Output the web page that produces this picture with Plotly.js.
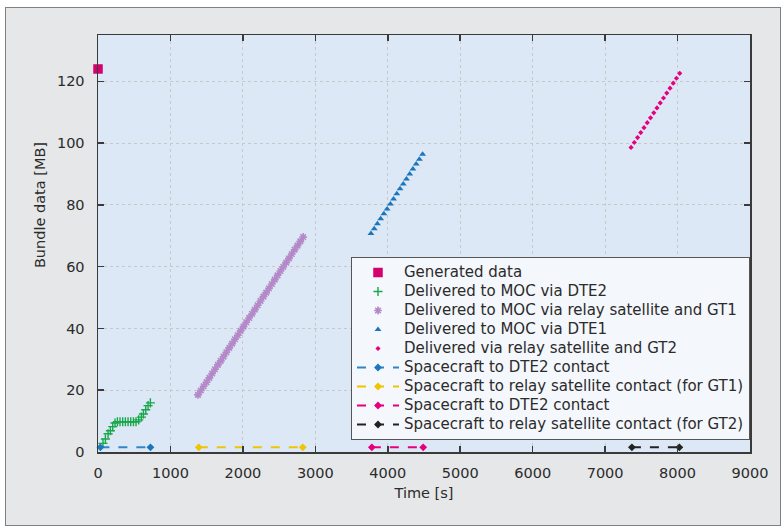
<!DOCTYPE html>
<html>
<head>
<meta charset="utf-8">
<script src="https://cdn.plot.ly/plotly-3.0.1.min.js"></script>
<style>
  html, body { margin: 0; padding: 0; background: #ffffff; }
  #wrap { position: absolute; left: 5px; top: 7px; width: 774px; height: 517px;
          border: 1px solid #808080; background: #e6e7e8; }
  #plot { width: 774px; height: 517px; }
</style>
</head>
<body>
<div id="wrap"><div id="plot"></div></div>
<script>
// ---- Data ----
const generatedX = [0];
const generatedY = [124];

const dte2X = [69, 102, 139, 171, 203, 235, 268, 304, 341, 378, 415, 452, 489, 525, 562, 599, 627, 659, 691, 723];
const dte2Y = [2.8, 4.2, 5.9, 6.9, 8.2, 9.4, 9.8, 9.8, 9.8, 9.8, 9.8, 9.8, 9.8, 9.8, 10.4, 11.3, 12.3, 13.7, 15.0, 15.9];

const gt1X = [1380, 1419, 1458, 1498, 1537, 1576, 1615, 1655, 1694, 1733, 1772, 1812, 1851, 1890, 1929, 1969, 2008, 2047, 2086,
              2126, 2165, 2204, 2243, 2283, 2322, 2361, 2400, 2440, 2479, 2518, 2557, 2597, 2636, 2675, 2714, 2754, 2793, 2832];
const gt1Y = [18.5, 19.9, 21.3, 22.6, 24.0, 25.4, 26.8, 28.2, 29.5, 30.9, 32.3, 33.7, 35.1, 36.5, 37.8, 39.2, 40.6, 42.0, 43.4,
              44.7, 46.1, 47.5, 48.9, 50.3, 51.6, 53.0, 54.4, 55.8, 57.2, 58.6, 59.9, 61.3, 62.7, 64.1, 65.5, 66.8, 68.2, 69.6];

const dte1X = [3768, 3813, 3857, 3902, 3946, 3991, 4036, 4080, 4125, 4169, 4214, 4258, 4303, 4347, 4392, 4436, 4481];
const dte1Y = [70.7, 72.3, 73.9, 75.5, 77.1, 78.7, 80.3, 81.9, 83.6, 85.2, 86.8, 88.4, 90.0, 91.6, 93.2, 94.8, 96.4];

const gt2X = [7358, 7403, 7448, 7492, 7537, 7582, 7627, 7672, 7716, 7761, 7806, 7851, 7896, 7940, 7985, 8030];
const gt2Y = [98.6, 100.2, 101.8, 103.4, 105.0, 106.6, 108.2, 109.8, 111.4, 113.0, 114.6, 116.2, 117.8, 119.4, 121.0, 122.6];

const contactDte2X = [33, 724];
const contactGt1X  = [1391, 2827];
const contactDte2bX = [3780, 4489];
const contactGt2X  = [7370, 8025];
const contactY = [1.5, 1.5];

const seriesNames = [
  'Generated data',
  'Delivered to MOC via DTE2',
  'Delivered to MOC via relay satellite and GT1',
  'Delivered to MOC via DTE1',
  'Delivered via relay satellite and GT2',
  'Spacecraft to DTE2 contact',
  'Spacecraft to relay satellite contact (for GT1)',
  'Spacecraft to DTE2 contact',
  'Spacecraft to relay satellite contact (for GT2)'
];
const xTicks = [0, 1000, 2000, 3000, 4000, 5000, 6000, 7000, 8000, 9000];
const yTicks = [0, 20, 40, 60, 80, 100, 120];
const xTitle = 'Time [s]';
const yTitle = 'Bundle data [MB]';

// ---- Styling ----
const FONT = 'DejaVu Sans, sans-serif';
const TXT = '#2b2b2b';
const nm = s => '<span style="font-size:15px">' + s + '</span>';

const traces = [
  { x: generatedX, y: generatedY, name: nm(seriesNames[0]), mode: 'markers', cliponaxis: false,
    marker: { symbol: 'square', size: 9.5, color: '#d4006b' } },
  { x: dte2X, y: dte2Y, name: nm(seriesNames[1]), mode: 'markers',
    marker: { symbol: 'cross-thin-open', size: 6.5, color: '#1aa64b', line: { width: 1.4, color: '#1aa64b' } } },
  { x: gt1X, y: gt1Y, name: nm(seriesNames[2]), mode: 'markers',
    marker: { symbol: 'asterisk-open', size: 6.5, color: '#b489c8', line: { width: 1.6, color: '#b489c8' } } },
  { x: dte1X, y: dte1Y, name: nm(seriesNames[3]), mode: 'markers',
    marker: { symbol: 'triangle-up', size: 6, color: '#1b76bd' } },
  { x: gt2X, y: gt2Y, name: nm(seriesNames[4]), mode: 'markers',
    marker: { symbol: 'diamond', size: 4, color: '#e6007e' } },
  { x: contactDte2X, y: contactY, name: nm(seriesNames[5]), mode: 'lines+markers', cliponaxis: false,
    line: { color: '#2e86c8', width: 2, dash: 'dash' }, marker: { symbol: 'diamond', size: 6, color: '#1b76bd' } },
  { x: contactGt1X, y: contactY, name: nm(seriesNames[6]), mode: 'lines+markers', cliponaxis: false,
    line: { color: '#f0c400', width: 2, dash: 'dash' }, marker: { symbol: 'diamond', size: 6, color: '#f0c400' } },
  { x: contactDte2bX, y: contactY, name: nm(seriesNames[7]), mode: 'lines+markers', cliponaxis: false,
    line: { color: '#e6007e', width: 2, dash: 'dash' }, marker: { symbol: 'diamond', size: 6, color: '#e6007e' } },
  { x: contactGt2X, y: contactY, name: nm(seriesNames[8]), mode: 'lines+markers', cliponaxis: false,
    line: { color: '#222222', width: 2, dash: 'dash' }, marker: { symbol: 'diamond', size: 6, color: '#222222' } }
];

const axisCommon = {
  showline: true, linecolor: '#3a3a3a', linewidth: 1.5, mirror: 'ticks',
  ticks: 'inside', ticklen: 6, tickwidth: 1.5, tickcolor: '#3a3a3a',
  showgrid: true, gridcolor: '#c8c8c8', gridwidth: 1, griddash: '3px,3px',
  zeroline: false, tickfont: { family: FONT, size: 14.5, color: TXT }
};

const layout = {
  width: 774, height: 517,
  margin: { l: 92, r: 30, t: 27, b: 73 },
  paper_bgcolor: 'rgba(0,0,0,0)',
  plot_bgcolor: '#dce8f5',
  font: { family: FONT, color: TXT },
  showlegend: true,
  xaxis: Object.assign({}, axisCommon, {
    range: [0, 9000], tickvals: xTicks, ticktext: xTicks.map(String), ticklabelstandoff: 7,
    title: { text: xTitle, font: { family: FONT, size: 14.5, color: TXT }, standoff: 8 }
  }),
  yaxis: Object.assign({}, axisCommon, {
    range: [0, 135], tickvals: yTicks, ticktext: yTicks.map(String), ticklabelstandoff: 9
  }),
  annotations: [
    { text: yTitle, xref: 'paper', yref: 'paper', x: -0.089, y: 0.592, xanchor: 'center', yanchor: 'middle',
      textangle: -90, showarrow: false, font: { family: FONT, size: 14.5, color: TXT } }
  ],
  legend: {
    x: 1, xanchor: 'right', y: 0.4676, yanchor: 'top',
    bgcolor: '#f4f7fb', bordercolor: '#555555', borderwidth: 1,
    font: { family: FONT, size: 11.6, color: TXT },
    itemwidth: 42, tracegroupgap: 0
  }
};

Plotly.newPlot('plot', traces, layout, { displayModeBar: false, staticPlot: true });
</script>
</body>
</html>
